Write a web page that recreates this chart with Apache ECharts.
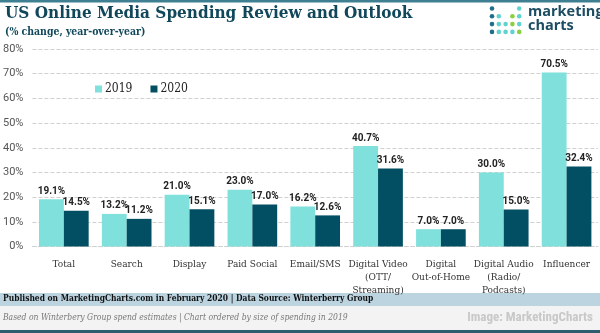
<!DOCTYPE html>
<html><head><meta charset="utf-8">
<script src="https://cdn.jsdelivr.net/npm/echarts@6/dist/echarts.min.js"></script>
<style>html,body{margin:0;padding:0;background:#fff}#c{width:600px;height:333px}</style>
</head><body><div id="c"></div>
<script>
const categories = ['Total','Search','Display','Paid Social','Email/SMS','Digital Video\n(OTT/\nStreaming)','Digital\nOut-of-Home','Digital Audio\n(Radio/\nPodcasts)','Influencer'];
const values2019 = [19.1,13.2,21.0,23.0,16.2,40.7,7.0,30.0,70.5];
const values2020 = [14.5,11.2,15.1,17.0,12.6,31.6,7.0,15.0,32.4];
const seriesNames = ['2019','2020'];
const yTicks = [0,10,20,30,40,50,60,70,80];

const SERIF = '"DejaVu Serif Condensed", "DejaVu Serif", serif';
const chart = echarts.init(document.getElementById('c'));

const dotBlue='#1f6f8b', dotCyan='#62d2ce', dotGreen='#8ccf3f';
const dotPattern = [
  [dotBlue,null,null,null,dotCyan],
  [dotBlue,dotCyan,null,dotGreen,dotCyan],
  [dotBlue,dotCyan,dotCyan,dotGreen,dotCyan],
  [dotBlue,dotCyan,dotCyan,dotCyan,dotGreen]
];
const dots = [];
dotPattern.forEach((row,r)=>row.forEach((c,k)=>{ if(c) dots.push({type:'circle',shape:{cx:492+k*6.8,cy:8.5+r*7.8,r:2.3},style:{fill:c},silent:true}); }));

const labelStyle = {show:true,position:'top',distance:3,color:'#222',fontFamily:'Roboto, sans-serif',fontWeight:'bold',fontSize:10,formatter:p=>p.value.toFixed(1)+'%'};

chart.setOption({
  animation:false,
  grid:{left:30,right:2,top:49,bottom:86.5,containLabel:false},
  legend:{data:seriesNames,left:90,top:78,itemWidth:7,itemHeight:7,itemGap:18,icon:'rect',
    textStyle:{fontFamily:SERIF,fontSize:12,color:'#222',padding:[0,0,0,-2]}},
  xAxis:{type:'category',data:categories,
    axisLine:{show:true,lineStyle:{color:'#d0d0d0',type:'dashed'}},axisTick:{show:false},
    axisLabel:{interval:0,color:'#333',fontFamily:SERIF,fontSize:10,lineHeight:13,margin:11}},
  yAxis:{type:'value',min:0,max:80,interval:10,
    axisLabel:{formatter:v=>v+'%',color:'#555',fontFamily:'Roboto, sans-serif',fontSize:11,margin:9},
    splitLine:{lineStyle:{color:'#d0d0d0',type:'dashed'}},axisLine:{show:false},axisTick:{show:false}},
  series:[
    {name:seriesNames[0],type:'bar',data:values2019,barGap:'0%',barCategoryGap:'21%',itemStyle:{color:'#7fe0dc'},label:labelStyle},
    {name:seriesNames[1],type:'bar',data:values2020,barGap:'0%',barCategoryGap:'21%',itemStyle:{color:'#024f63'},label:labelStyle}
  ],
  graphic:[
    {type:'rect',shape:{x:0,y:0,width:600,height:2.5},style:{fill:'#3f7f92'},silent:true},
    {type:'text',left:5,top:5,style:{text:'US Online Media Spending Review and Outlook',fill:'#11475a',font:'bold 17px '+SERIF},silent:true},
    {type:'text',left:5,top:27,style:{text:'(% change, year-over-year)',fill:'#11475a',font:'bold 10.4px '+SERIF},silent:true},
    ...dots,
    {type:'text',left:528,top:4,style:{text:'marketing',fill:'#1c4d62',font:'bold 14.5px "Open Sans", sans-serif'},silent:true},
    {type:'text',left:528,top:18,style:{text:'charts',fill:'#1c4d62',font:'bold 14.5px "Open Sans", sans-serif'},silent:true},
    {type:'rect',shape:{x:0,y:293,width:600,height:13},style:{fill:'#bcd4e0'},silent:true},
    {type:'rect',shape:{x:0,y:306,width:600,height:24},style:{fill:'#f3f3f3'},silent:true},
    {type:'rect',shape:{x:0,y:330,width:600,height:3},style:{fill:'#2f5d70'},silent:true},
    {type:'text',left:3,top:294.5,style:{text:'Published on MarketingCharts.com in February 2020 | Data Source: Winterberry Group',fill:'#111',font:'bold 8.4px '+SERIF},silent:true},
    {type:'text',left:3,top:313,style:{text:'Based on Winterbery Group spend estimates | Chart ordered by size of spending in 2019',fill:'#777',font:'italic 8.5px '+SERIF},silent:true},
    {type:'text',right:7,top:311,style:{text:'Image: MarketingCharts',fill:'#c8c8c8',font:'bold 13px "Roboto Condensed", "Liberation Sans Narrow", Roboto, sans-serif'},silent:true}
  ]
});
</script></body></html>
